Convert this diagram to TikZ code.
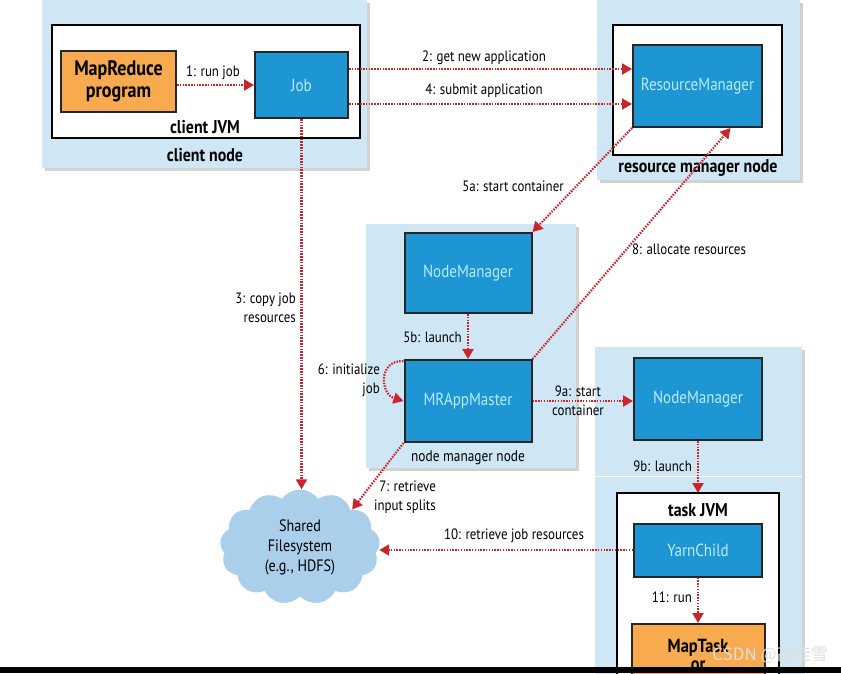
\documentclass[tikz,border=0pt]{standalone}
\usepackage{fontspec}
\setmainfont[FakeStretch=0.86]{PT Sans}
\newfontfamily\cjkfont{Noto Sans CJK SC}
\usetikzlibrary{arrows.meta,shapes.symbols,shadows,calc}
\definecolor{panelblue}{HTML}{CFE7F5}
\definecolor{boxblue}{HTML}{1E96D4}
\definecolor{boxtext}{HTML}{B8ECFF}
\definecolor{orangefill}{HTML}{F7AA4E}
\definecolor{arrowred}{HTML}{C9262B}
\definecolor{cloudblue}{HTML}{A9CFEA}
\begin{document}
\begin{tikzpicture}[x=1pt,y=-1pt,
  panel/.style={fill=panelblue, drop shadow={shadow xshift=2.5pt, shadow yshift=-2.5pt, opacity=0.35}},
  jvmbox/.style={draw=black, line width=2, fill=white},
  bluebox/.style={draw=black!85, line width=2, fill=boxblue, text=boxtext, font=\fontsize{17.5}{20}\selectfont, inner sep=0},
  orangebox/.style={draw=black!85, line width=2, fill=orangefill, font=\bfseries\fontsize{21}{22}\selectfont, align=center, inner sep=0},
  lbl/.style={font=\fontsize{15}{19}\selectfont, align=center, inner sep=0},
  title/.style={font=\bfseries\fontsize{18.5}{20}\selectfont, inner sep=0},
  arr/.style={draw=arrowred, line width=2.2, dash pattern=on 1.5pt off 1.3pt, -{Triangle[length=10pt,width=11pt,fill=arrowred]}}
]
\useasboundingbox (0,0) rectangle (841,673);
\fill[white] (0,0) rectangle (841,673);

% panels
\path[panel] (42,0) rectangle (367,168);
\path[panel] (597,0) rectangle (800,180);
\path[panel] (366,224) rectangle (576,468);
\path[panel] (595,347) rectangle (802,680);
\draw[white, line width=1] (595,476) -- (802,476);

% white containers
\draw[jvmbox] (52,25) rectangle (360,138);
\draw[jvmbox] (613,25) rectangle (782,155);
\draw[jvmbox] (617,493) rectangle (779,680);

% container titles
\node[title] (tcjvm) at (205,127) {client JVM};
\node[title] (tcnode) at (205,155) {client node};
\node[title] (trm) at (698,168) {resource manager node};
\node[lbl, font=\fontsize{15.5}{19}\selectfont] (tnm) at (468,458) {node manager node};
\node[title] (ttask) at (698,510) {task JVM};

% boxes
\node[orangebox, minimum width=115, minimum height=61] (mrp) at (118.5,81.5) {MapReduce\\program};
\node[bluebox, minimum width=93, minimum height=66] (job) at (301.5,85) {Job};
\node[bluebox, minimum width=129, minimum height=82] (rm) at (697.5,86) {ResourceManager};
\node[bluebox, minimum width=127, minimum height=80] (nm) at (468,273) {NodeManager};
\node[bluebox, minimum width=127, minimum height=82] (mr) at (468,401) {MRAppMaster};
\node[bluebox, minimum width=128, minimum height=82] (nm2) at (698,399) {NodeManager};
\node[bluebox, minimum width=128, minimum height=53] (yc) at (698,550) {YarnChild};
\node[orangebox, minimum width=133, minimum height=62, anchor=north, font=\bfseries\fontsize{19}{18}\selectfont] (mt) at (698,623) {MapTask\\or};

% cloud
\node[cloud, cloud puffs=13, cloud puff arc=110, aspect=1.4, fill=cloudblue, draw=none,
      minimum width=160, minimum height=115, align=center, font=\fontsize{16.5}{20}\selectfont] (fs) at (300,547) {Shared\\Filesystem\\(e.g., HDFS)};

% connectors
\draw[arr] (mrp.east |- job.west) -- (job.west);
\node[lbl] (l1) at (213,73) {1: run job};

\coordinate (a2) at ($(job.east)+(0,-16)$);
\draw[arr] (a2) -- (a2 -| rm.west);
\node[lbl] (l2) at (484,58) {2: get new application};

\coordinate (a4) at ($(job.east)+(0,19)$);
\draw[arr] (a4) -- (a4 -| rm.west);
\node[lbl] (l4) at (484,91) {4: submit application};

\draw[arr] (job.south) -- (job.south |- fs.north);
\node[lbl, align=right, anchor=east] (l3) at (296,308) {3: copy job\\resources};

\draw[arr] (rm.south west) -- (nm.north east);
\node[lbl] (l5a) at (513,186) {5a: start container};

\draw[arr] (nm.south) -- (mr.north);
\node[lbl, anchor=east] (l5b) at (462,337) {5b: launch};

\draw[arr] ([yshift=-2pt]mr.north west) .. controls (378,360) and (380,394) .. (mr.west);
\node[lbl, align=right, anchor=east] (l6) at (380,380) {6: initialize\\job};

\draw[arr] (mr.south west) -- (fs.north east);
\node[lbl, align=right, anchor=east] (l7) at (436,497) {7: retrieve\\input splits};

\coordinate (rm8) at ($(rm.south)+(33,0)$);
\draw[arr] (mr.north east) -- (rm8);
\node[lbl] (l8) at (689,249) {8: allocate resources};

\draw[arr] (mr.east) -- (mr.east -| nm2.west);
\node[lbl] (l9a) at (578,401) {9a: start\\container};

\coordinate (tjtop) at (698,493);
\draw[arr] (nm2.south) -- (tjtop);
\node[lbl, anchor=east] (l9b) at (692,466) {9b: launch};

\draw[arr] (yc.west) -- (yc.west -| fs.east);
\node[lbl] (l10) at (514,536) {10: retrieve job resources};

\draw[arr] (yc.south) -- (mt.north);
\node[lbl, anchor=east] (l11) at (692,597) {11: run};

% bottom bar and watermark
\fill[black] (0,667) rectangle (841,673);
\node[font=\cjkfont\fontsize{17}{17}\selectfont, text=white!88!black, anchor=east, inner sep=0] (wm) at (828,655) {CSDN @高佳雪};
\end{tikzpicture}
\end{document}
